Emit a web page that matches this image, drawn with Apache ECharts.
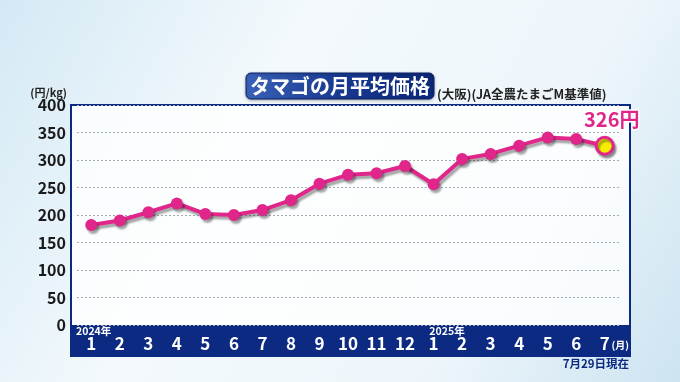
<!DOCTYPE html>
<html><head><meta charset="utf-8">
<script src="https://cdn.jsdelivr.net/npm/echarts@6/dist/echarts.min.js"></script>
<style>html,body{margin:0;padding:0;}#c{width:680px;height:382px;}</style>
</head><body><div id="c"></div>
<script>
const months = ['1','2','3','4','5','6','7','8','9','10','11','12','1','2','3','4','5','6','7'];
const prices = [182,190,205,221,202,200,209,227,257,273,276,289,256,302,311,326,341,338,326];
const yTicks = {min:0, max:400, interval:50};
const titleText = 'タマゴの月平均価格';
const subText = '(大阪)(JA全農たまごM基準値)';
const unitText = '(円/kg)';
const lastLabel = '326円';
const yearLabels = ['2024年','2025年'];
const noteText = '7月29日現在';

const FONT = '"Noto Sans CJK JP", "Noto Sans", sans-serif';
const NAVY = '#0c2a82';
const MAG = '#e0268a';

const chart = echarts.init(document.getElementById('c'));
const seriesData = prices.map((v,i)=> i===prices.length-1 ? {
  value:v, symbolSize:17,
  itemStyle:{color:'#f6ee00', borderColor:MAG, borderWidth:3},
  label:{show:true, position:'top', offset:[7,-1], formatter:lastLabel,
    color:MAG, fontSize:20, fontWeight:'bold', fontFamily:FONT,
    textBorderColor:'#fff', textBorderWidth:3}
} : v);

chart.setOption({
  animation:false,
  backgroundColor:{type:'linear',x:0,y:0,x2:1,y2:1,colorStops:[
    {offset:0,color:'#d4e9f5'},{offset:0.35,color:'#f3f9fc'},{offset:0.7,color:'#eef6fb'},{offset:1,color:'#cde4f1'}]},
  graphic:[
    {type:'rect', z:-1, shape:{x:71,y:105,width:559,height:251},
      style:{fill:'rgba(255,255,255,0.8)', stroke:NAVY, lineWidth:2}},
    {type:'rect', z:-1, shape:{x:71,y:325,width:559,height:31}, style:{fill:NAVY}},
    {type:'rect', shape:{x:246,y:73,width:188,height:26,r:5},
      style:{fill:{type:'linear',x:0,y:0,x2:1,y2:0,colorStops:[{offset:0,color:'#3a62b8'},{offset:0.5,color:'#17398f'},{offset:1,color:'#0b2778'}]},
        stroke:'#0a2266', lineWidth:1, shadowColor:'rgba(0,0,0,0.3)', shadowBlur:3, shadowOffsetY:1}},
    {type:'text', style:{x:340,y:86,text:titleText,align:'center',verticalAlign:'middle',
      fill:'#fff', font:'bold 20px '+FONT}},
    {type:'text', style:{x:437,y:94,text:subText,align:'left',verticalAlign:'middle',
      fill:'#222', font:'bold 12.5px '+FONT}},
    {type:'text', style:{x:67,y:93,text:unitText,align:'right',verticalAlign:'middle',
      fill:'#222', font:'bold 11px '+FONT}},
    {type:'text', style:{x:76,y:331,text:yearLabels[0],align:'left',verticalAlign:'middle',
      fill:'#fff', font:'bold 10.5px '+FONT}},
    {type:'text', style:{x:447,y:331,text:yearLabels[1],align:'center',verticalAlign:'middle',
      fill:'#fff', font:'bold 10.5px '+FONT}},
    {type:'text', style:{x:629,y:345,text:'(月)',align:'right',verticalAlign:'middle',
      fill:'#fff', font:'bold 10px '+FONT}},
    {type:'text', style:{x:629,y:364,text:noteText,align:'right',verticalAlign:'middle',
      fill:NAVY, font:'bold 11.5px '+FONT}}
  ],
  grid:{left:77, right:61, top:105, bottom:57},
  xAxis:{type:'category', data:months, boundaryGap:true,
    axisLine:{show:false}, axisTick:{show:false},
    axisLabel:{color:'#fff', fontSize:17, fontWeight:'bold', fontFamily:FONT, margin:10, verticalAlign:'top', interval:0}},
  yAxis:{type:'value', min:yTicks.min, max:yTicks.max, interval:yTicks.interval,
    axisLine:{show:false}, axisTick:{show:false},
    axisLabel:{color:'#1a1a1a', fontSize:16, fontWeight:'bold', fontFamily:FONT, margin:11},
    splitLine:{lineStyle:{color:'#a4aab2', type:[2,2], width:1}}},
  series:[{type:'line', data:seriesData, symbol:'circle', symbolSize:12,
    lineStyle:{color:MAG, width:4, shadowColor:'rgba(0,0,0,0.35)', shadowBlur:2, shadowOffsetX:2, shadowOffsetY:3},
    itemStyle:{color:MAG, shadowColor:'rgba(0,0,0,0.35)', shadowBlur:2, shadowOffsetX:2, shadowOffsetY:3}}]
});
</script></body></html>
